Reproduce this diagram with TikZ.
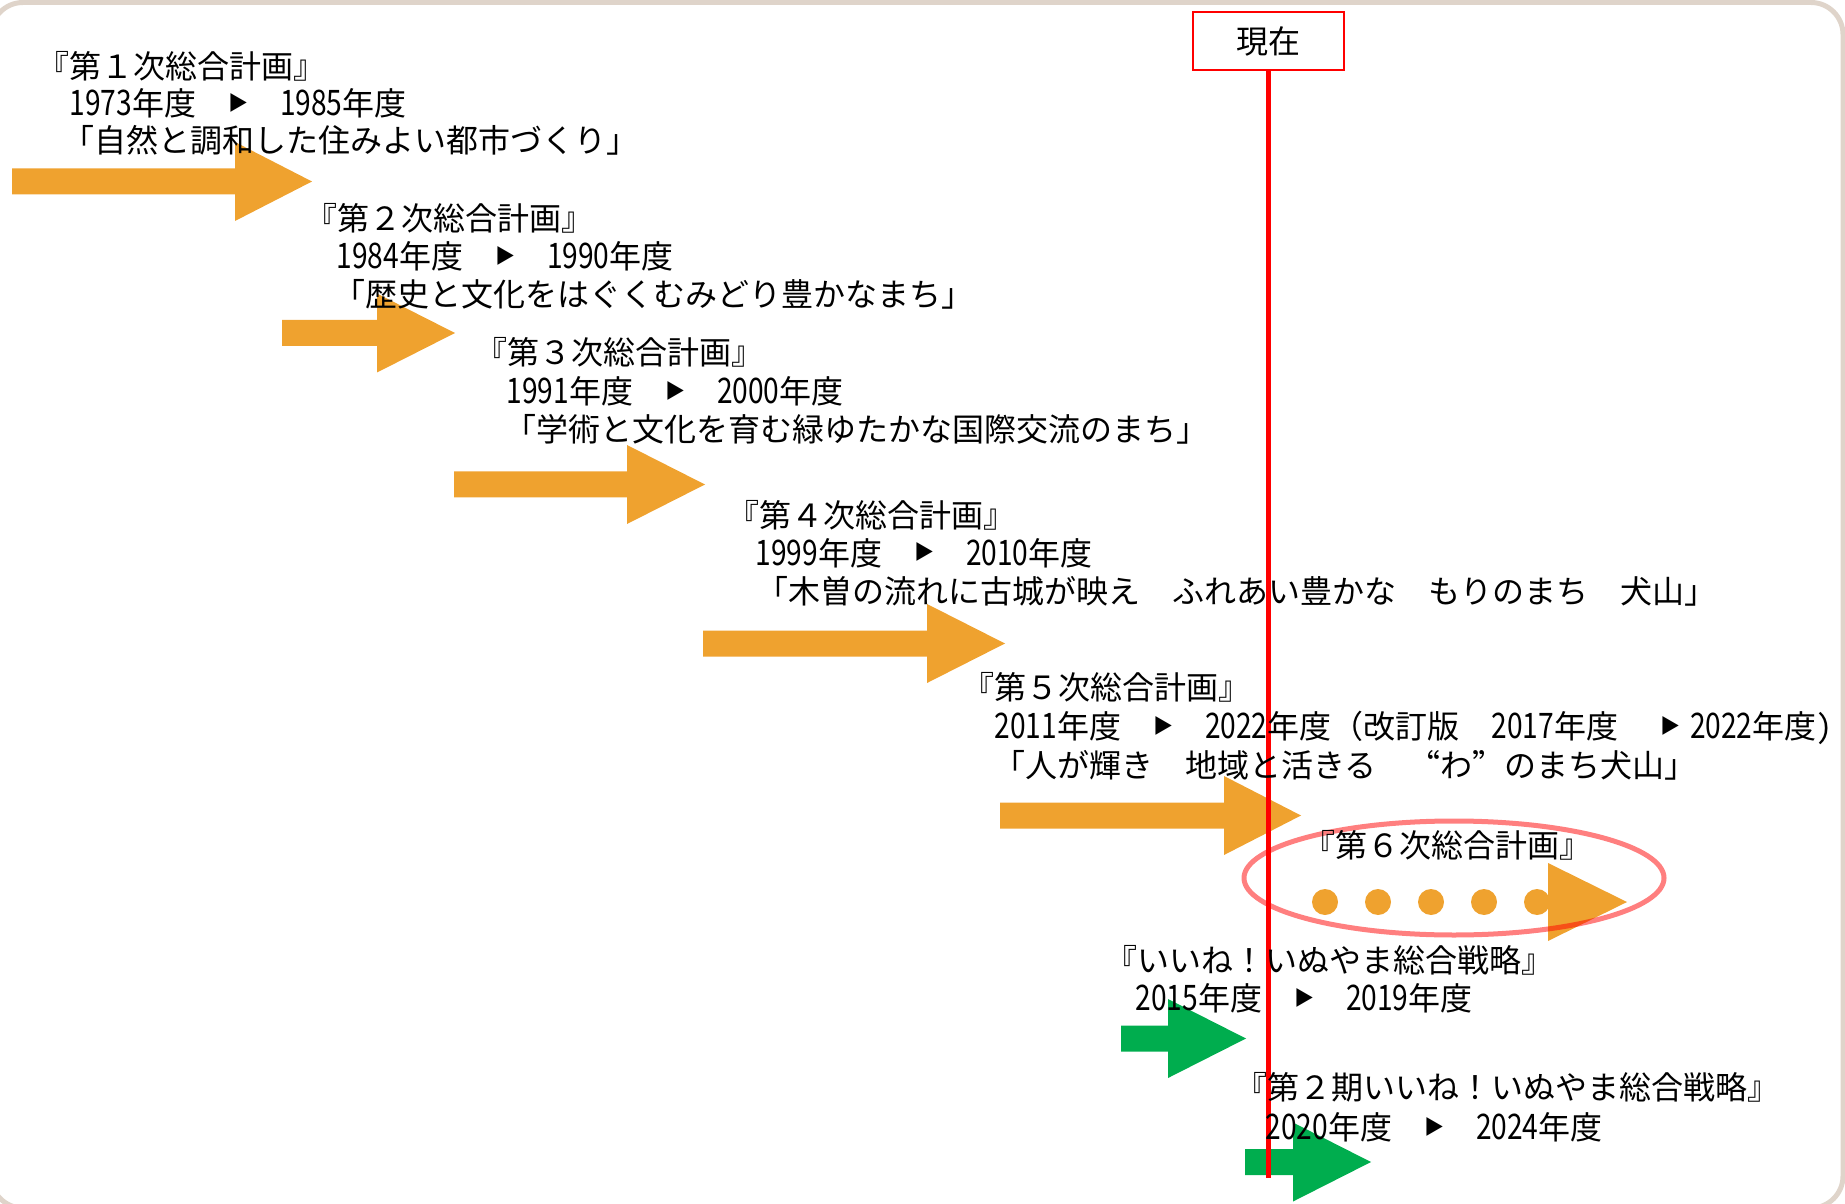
\documentclass[tikz,border=0pt]{standalone}
\usepackage{fontspec}
\setmainfont{Noto Sans CJK JP}
\newfontfamily\digitfont[FakeStretch=0.8,Scale=1.1]{Noto Sans CJK JP}
\definecolor{arrorange}{HTML}{EFA22F}
\definecolor{arrgreen}{HTML}{00AD4E}
\definecolor{framec}{HTML}{DFD4CA}
\newcommand\yr[1]{{\digitfont #1}}
\newcommand\tri{\raisebox{2.0pt}{\fontsize{8}{9}\selectfont ▶}}
\newcommand\fq[1]{{\addfontfeature{RawFeature=+fwid}#1}}
\newcommand\hq[1]{{\addfontfeature{RawFeature=+hwid}#1}}
\newcommand\tlarrow[5]{\fill[#5] (#1,#4-13) -- (#2,#4-13) -- (#2,#4-39.5) -- (#3,#4) -- (#2,#4+39.5) -- (#2,#4+13) -- (#1,#4+13) -- cycle;}
\tikzset{
  txt/.style={anchor=base west, inner sep=0pt, font=\fontsize{12.8}{15}\selectfont},
  nowbox/.style={draw=red, line width=0.8pt, fill=white, minimum width=60.4pt, minimum height=23.2pt, inner sep=0pt, font=\fontsize{12.8}{15}\selectfont},
  nowline/.style={red, line width=2pt},
  dot/.style={fill=arrorange}
}
\begin{document}
\begin{tikzpicture}[x=0.4pt,y=-0.4pt]
\useasboundingbox (0,0) rectangle (1845,1204);
% frame
\draw[framec, line width=2pt, rounded corners=12.8pt] (-9,2.5) rectangle (1843,1208);
% orange arrows
\tlarrow{12}{235}{312}{181.5}{arrorange}
\tlarrow{282}{377}{455}{333}{arrorange}
\tlarrow{454}{627}{705}{484.5}{arrorange}
\tlarrow{703}{927}{1005}{643.5}{arrorange}
\tlarrow{1000}{1224}{1301}{815.5}{arrorange}
% dotted arrow (6th plan)
\foreach \dx in {1325,1378,1431,1484,1537} {\fill[dot] (\dx,902) circle (5.2pt);}
\fill[arrorange] (1548,863) -- (1627,902) -- (1548,941) -- cycle;
% green arrows
\tlarrow{1121}{1168}{1246}{1038.5}{arrgreen}
\tlarrow{1245}{1293}{1371}{1162}{arrgreen}
% now box and line
\node[nowbox] (now) at (1268.5,41) {\raisebox{-1pt}{現在}};
\coordinate (lineend) at (1268.5,1178);
\draw[nowline] (now.south) -- (lineend);
% ellipse
\draw[red, draw opacity=0.5, line width=2pt] (1454,878) ellipse [x radius=84pt, y radius=22.8pt];
% texts
\node[txt] (t1a) at (36.5,79) {『第１次総合計画』};
\node[txt] (t1b) at (69,116) {\yr{1973}年度　\tri　\yr{1985}年度};
\node[txt] (t1c) at (62,153) {「自然と調和した住みよい都市づくり」};
\node[txt] (t2a) at (304.5,231) {『第２次総合計画』};
\node[txt] (t2b) at (336,269) {\yr{1984}年度　\tri　\yr{1990}年度};
\node[txt] (t2c) at (333,307) {「歴史と文化をはぐくむみどり豊かなまち」};
\node[txt] (t3a) at (474.5,365) {『第３次総合計画』};
\node[txt] (t3b) at (506,404) {\yr{1991}年度　\tri　\yr{2000}年度};
\node[txt] (t3c) at (504,442) {「学術と文化を育む緑ゆたかな国際交流のまち」};
\node[txt] (t4a) at (726.5,527) {『第４次総合計画』};
\node[txt] (t4b) at (755,565) {\yr{1999}年度　\tri　\yr{2010}年度};
\node[txt] (t4c) at (756,603) {「木曽の流れに古城が映え　ふれあい豊かな　もりのまち　犬山」};
\node[txt] (t5a) at (961.5,699) {『第５次総合計画』};
\node[txt] (t5b) at (994,738) {\yr{2011}年度　\tri　\yr{2022}年度（改訂版　\yr{2017}年度　\hspace{4pt}\tri\hspace{4pt}\yr{2022}年度\hq{）}};
\node[txt] (t5c) at (993,777) {「人が輝き　地域と活きる　\fq{“}わ\fq{”}のまち犬山」};
\node[txt] (t6a) at (1302.5,857) {『第６次総合計画』};
\node[txt] (t7a) at (1104.5,972) {『いいね！いぬやま総合戦略』};
\node[txt] (t7b) at (1135,1010) {\yr{2015}年度　\tri　\yr{2019}年度};
\node[txt] (t8a) at (1234.5,1099) {『第２期いいね！いぬやま総合戦略』};
\node[txt] (t8b) at (1265,1139) {\yr{2020}年度　\tri　\yr{2024}年度};
\end{tikzpicture}
\end{document}
